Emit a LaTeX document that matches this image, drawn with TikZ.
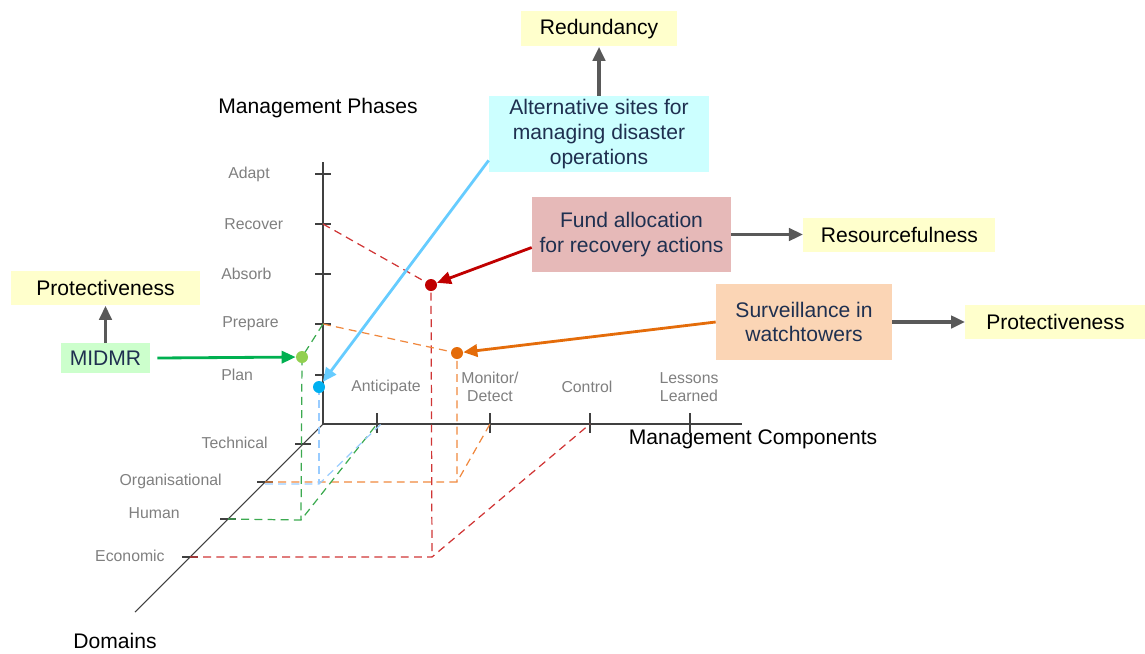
\documentclass[tikz,border=0pt]{standalone}
\usepackage{fontspec}
\setmainfont{Liberation Sans}
\usetikzlibrary{positioning,calc,arrows.meta}

\definecolor{axisgray}{HTML}{404040}
\definecolor{labelgray}{HTML}{7F7F7F}
\definecolor{navytext}{HTML}{1F3050}
\definecolor{linkgray}{HTML}{595959}
\definecolor{boxyellow}{HTML}{FFFFCC}
\definecolor{boxcyan}{HTML}{CCFFFF}
\definecolor{boxpink}{HTML}{E6B9B8}
\definecolor{boxpeach}{HTML}{FBD5B5}
\definecolor{boxgreen}{HTML}{CCFFCC}
\definecolor{fundred}{HTML}{C00000}
\definecolor{guidered}{HTML}{D03535}
\definecolor{survorange}{HTML}{E46C0A}
\definecolor{guideorange}{HTML}{F0883E}
\definecolor{midgreen}{HTML}{00B050}
\definecolor{guidegreen}{HTML}{3CAA50}
\definecolor{dotgreen}{HTML}{92D050}
\definecolor{altblue}{HTML}{66CCFF}
\definecolor{guideblue}{HTML}{99CCFF}
\definecolor{dotblue}{HTML}{00B0F0}

\begin{document}
\begin{tikzpicture}[x=0.02cm, y=-0.02cm, every node/.style={align=center},
    bigtext/.style={font=\fontsize{12}{14}\selectfont},
    ticktext/.style={font=\fontsize{9}{10}\selectfont, text=labelgray, inner sep=0pt},
    attrbox/.style={bigtext, fill=boxyellow, inner sep=0pt, minimum height=0.68cm},
    actionbox/.style={bigtext, text=navytext, inner sep=0pt},
    guideline/.style={dash pattern=on 4.5pt off 3pt, line width=0.7pt},
    resdot/.style={circle, inner sep=0pt, minimum size=0.24cm},
    graylink/.style={-{Triangle[length=8pt,width=7pt]}, line width=2.2pt, linkgray},
    colorlink/.style={-{Triangle[length=8pt,width=7pt]}, line width=1.6pt},
    axisline/.style={axisgray, line width=0.6pt}]
    \useasboundingbox (0,0) rectangle (1145,653);

    % axes
    \coordinate (origin) at (323,424);
    \draw[axisline] (323,162) -- (origin) -- (742,424);
    \draw[axisline] (origin) -- (135,612);
    \node[bigtext] (phaselabel) at (318,108) {Management Phases};
    \node[bigtext] (complabel) at (753,439) {Management Components};
    \node[bigtext] (domlabel) at (115,641) {Domains};

    % phases
    \foreach \y/\name/\lab/\lx in {174/adapt/Adapt/228, 224/recover/Recover/224, 274/absorb/Absorb/221, 324/prepare/Prepare/222, 375/plan/Plan/221} {
      \coordinate (\name) at (323,\y);
      \draw[axisline] (315,\y) -- (331,\y);
      \node[ticktext, anchor=west] (\name text) at (\lx,\y) {\lab};
    }

    % components
    \foreach \x/\name/\lab/\lx in {377/anticipate/Anticipate/386, 490/monitor/{Monitor/\\Detect}/490, 590/control/Control/587, 690/lessons/{Lessons\\Learned}/689} {
      \coordinate (\name) at (\x,424);
      \draw[axisline] (\x,413) -- (\x,433);
      \node[ticktext] (\name text) at (\lx,387) {\lab};
    }

    % domains
    \foreach \y/\name/\lab/\lx/\ly in {444/technical/Technical/268/443, 482/organisational/Organisational/222/481, 519/human/Human/180/513, 557/economic/Economic/165/556} {
      \coordinate (\name) at ({323-(\y-424)},\y);
      \draw[axisline] ($(\name)+(-8,0)$) -- ($(\name)+(8,0)$);
      \node[ticktext, anchor=east] (\name text) at (\lx,\ly) {\lab};
    }

    % positions of the measures
    \coordinate (fundpos) at (431,285);
    \coordinate (fundfoot) at (432,557);
    \coordinate (survpos) at (457,353);
    \coordinate (survfoot) at (457,482);
    \coordinate (midmrpos) at (302,357);
    \coordinate (midmrfoot) at (301,520);
    \coordinate (altpos) at (319,387);
    \coordinate (altfoot) at (319,484);

    \draw[guideline, guidered] (recover) -- (fundpos) -- (fundfoot);
    \draw[guideline, guidered] (economic) -- (fundfoot) -- (control);
    \draw[guideline, guideorange] (prepare) -- (survpos) -- (survfoot);
    \draw[guideline, guideorange] (organisational) -- (survfoot) -- (monitor);
    \draw[guideline, guidegreen] (prepare) -- (midmrpos) -- (midmrfoot);
    \draw[guideline, guidegreen] (human) -- (midmrfoot) -- (anticipate);
    \draw[guideline, guideblue] (altpos) -- (altfoot);
    \draw[guideline, guideblue] ($(organisational)+(0,2)$) -- (altfoot) -- ($(anticipate)+(4,0)$);

    \node[resdot, fill=fundred] (funddot) at (fundpos) {};
    \node[resdot, fill=survorange] (survdot) at (survpos) {};
    \node[resdot, fill=dotgreen] (midmrdot) at (midmrpos) {};
    \node[resdot, fill=dotblue] (altdot) at (altpos) {};

    % measures and attributes
    \node[actionbox, fill=boxcyan, minimum width=4.4cm, minimum height=1.52cm] (altbox) at (599,134) {Alternative sites for\\managing disaster\\operations};
    \node[attrbox, minimum width=3.14cm, minimum height=0.7cm, above=27.8pt of altbox] (redundancy) {Redundancy};

    \node[actionbox, fill=boxpink, minimum width=3.98cm, minimum height=1.5cm] (fundbox) at (631.5,234.5) {Fund allocation\\for recovery actions};
    \node[attrbox, minimum width=3.84cm, right=40.8pt of fundbox] (resourceful) {Resourcefulness};

    \node[actionbox, fill=boxpeach, minimum width=3.52cm, minimum height=1.52cm] (survbox) at (804,322) {Surveillance in\\watchtowers};
    \node[attrbox, minimum width=3.6cm, right=41.4pt of survbox] (protright) {Protectiveness};

    \node[actionbox, fill=boxgreen, minimum width=1.78cm, minimum height=0.6cm] (midmrbox) at (105.5,358) {MIDMR};
    \node[attrbox, minimum width=3.8cm, above=21pt of midmrbox] (protleft) {Protectiveness};

    % links
    \draw[graylink] (altbox.north) -- (redundancy.south);
    \draw[graylink] (fundbox.east) -- (resourceful.west);
    \draw[graylink] (survbox.east) -- (protright.west);
    \draw[graylink] (midmrbox.north) -- (protleft.south);

    \draw[colorlink, altblue] ([yshift=6.8pt]altbox.south west) -- (altdot);
    \draw[colorlink, fundred] ([yshift=-7.4pt]fundbox.west) -- (funddot);
    \draw[colorlink, survorange] (survbox.west) -- (survdot);
    \draw[colorlink, midgreen] ([xshift=4pt]midmrbox.east) -- (midmrdot);
  \end{tikzpicture}
\end{document}
